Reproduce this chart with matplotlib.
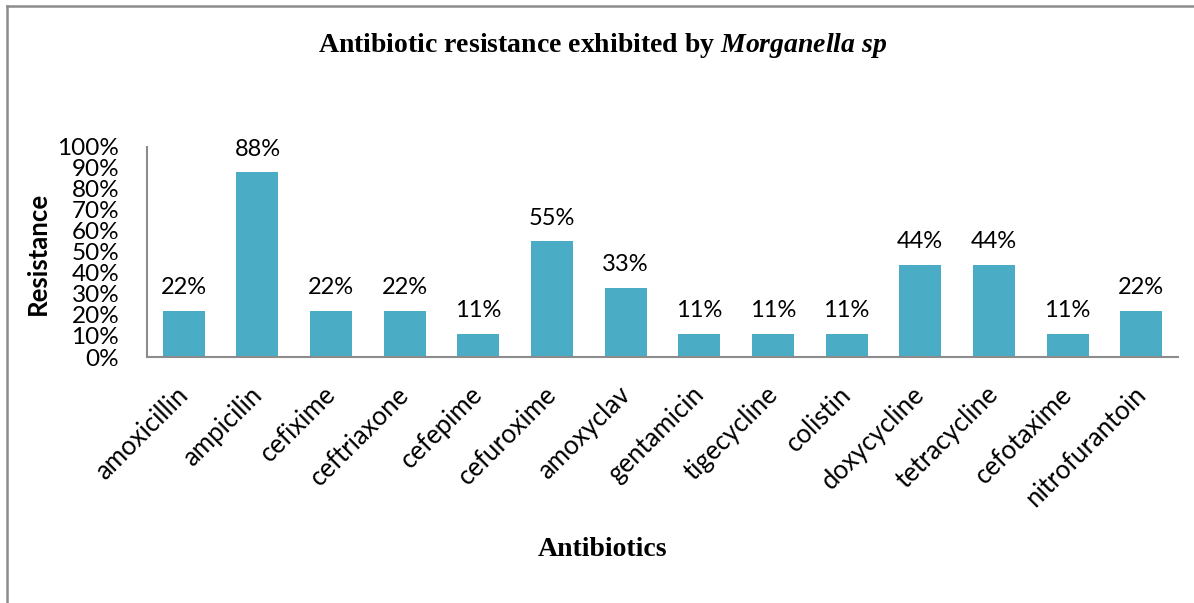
import matplotlib.pyplot as plt
import matplotlib.transforms as mtransforms
from matplotlib.lines import Line2D

plt.rcParams['mathtext.fontset'] = 'custom'
plt.rcParams['mathtext.it'] = 'Liberation Serif:italic:bold'
plt.rcParams['mathtext.rm'] = 'Liberation Serif:bold'

antibiotics = ['amoxicillin', 'ampicilin', 'cefixime', 'ceftriaxone', 'cefepime',
               'cefuroxime', 'amoxyclav', 'gentamicin', 'tigecycline', 'colistin',
               'doxycycline', 'tetracycline', 'cefotaxime', 'nitrofurantoin']
resistance = [22, 88, 22, 22, 11, 55, 33, 11, 11, 11, 44, 44, 11, 22]
yticks = list(range(0, 101, 10))

W, H = 1194, 603
fig = plt.figure(figsize=(W / 100, H / 100), dpi=100)
ax = fig.add_axes([147 / W, 1 - 357 / H, (1178 - 147) / W, (357 - 147) / H])

x = range(len(antibiotics))
ax.bar(x, resistance, width=0.57, color='#4BACC6')

# value labels above the bars
for i, v in enumerate(resistance):
    ax.text(i, v + 6, f'{v}%', ha='center', va='bottom', fontsize=17, family='Lato')

ax.set_xlim(-0.5, len(antibiotics) - 0.5)
ax.set_ylim(0, 100)
ax.set_yticks(yticks)
ax.set_yticklabels([f'{t}%' for t in yticks], fontsize=17.5, family='Lato')
ax.set_xticks(list(x))
ax.set_xticklabels(antibiotics, rotation=45, ha='right', rotation_mode='anchor',
                   fontsize=18.5, family='Lato')
ax.tick_params(axis='y', length=0, pad=20)
ax.tick_params(axis='x', length=0, pad=18)

shift = mtransforms.ScaledTranslation(-0.08, 0, fig.dpi_scale_trans)
for lbl in ax.get_xticklabels():
    lbl.set_transform(lbl.get_transform() + shift)

for s in ['top', 'right']:
    ax.spines[s].set_visible(False)
for s in ['left', 'bottom']:
    ax.spines[s].set_color('#8C8C8C')
    ax.spines[s].set_linewidth(1.5)

fig.text(603 / W, 1 - 45 / H, 'Antibiotic resistance exhibited by $Morganella\\ sp$',
         ha='center', va='center', fontsize=20, fontweight='bold', family='Liberation Serif')
fig.text(38 / W, 1 - 253 / H, 'Resistance', rotation=90, ha='center', va='center',
         fontsize=18.5, fontweight='bold', family='Lato')
fig.text(603 / W, 1 - 549 / H, 'Antibiotics', ha='center', va='center',
         fontsize=20, fontweight='bold', family='Liberation Serif')

# chart frame: top and left edges only
fig.add_artist(Line2D([7 / W, 1], [1 - 6 / H, 1 - 6 / H], transform=fig.transFigure,
                      color='#8C8C8C', linewidth=1.8))
fig.add_artist(Line2D([7 / W, 7 / W], [0, 1 - 6 / H], transform=fig.transFigure,
                      color='#8C8C8C', linewidth=1.8))

fig.savefig('out.png', dpi=100)
